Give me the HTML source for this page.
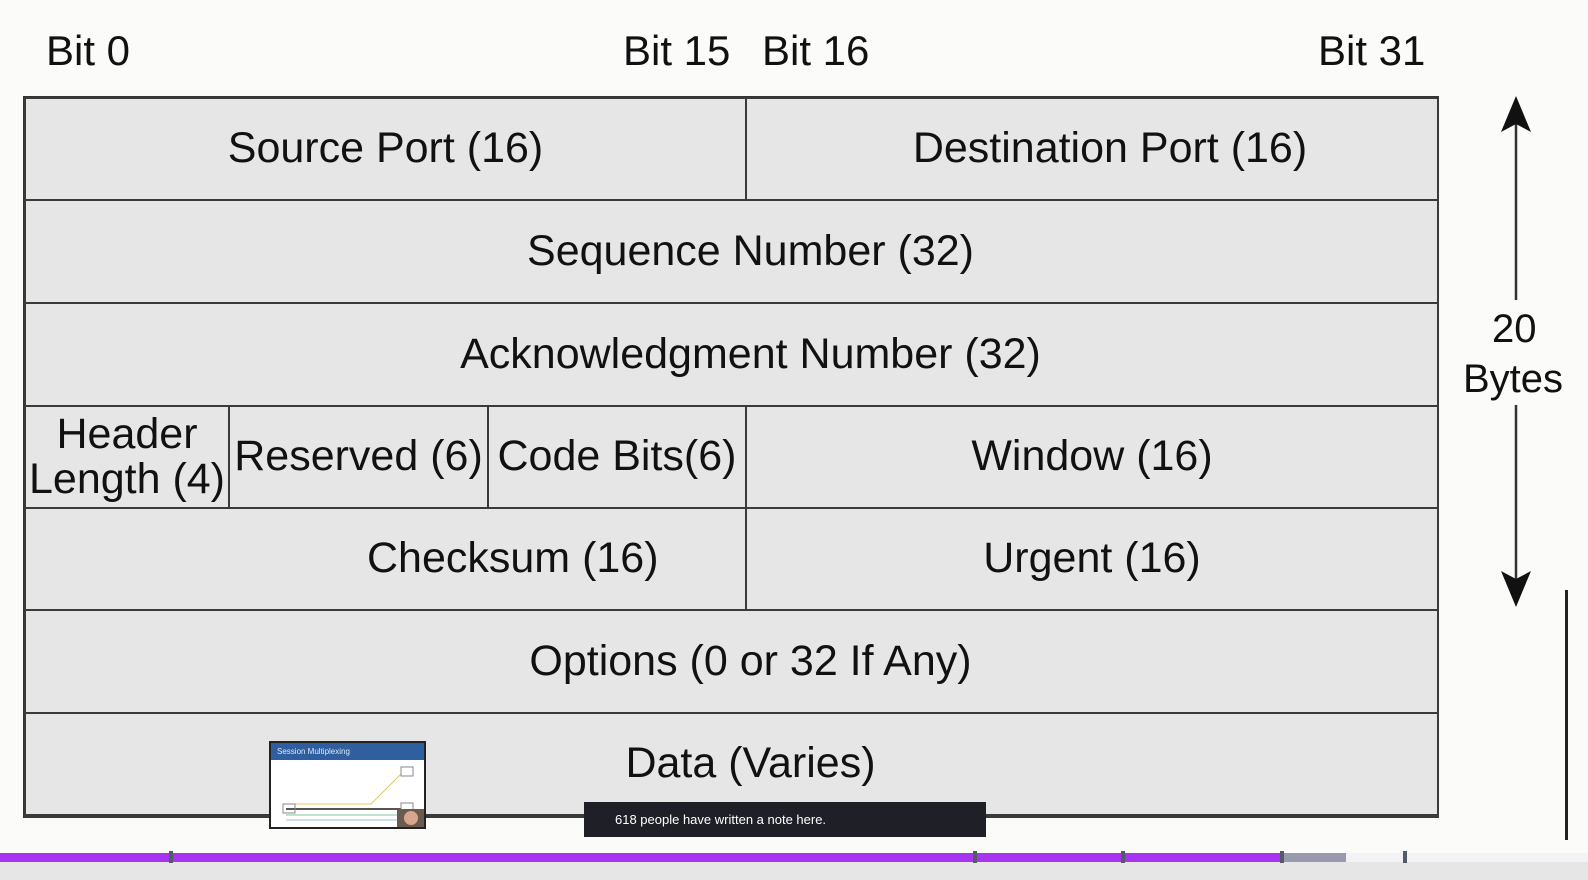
<!DOCTYPE html>
<html><head><meta charset="utf-8"><style>
html,body{margin:0;padding:0}
body{width:1588px;height:880px;position:relative;overflow:hidden;background:#fbfbfa;font-family:"Liberation Sans",sans-serif;color:#111}
.t{position:absolute;font-size:42px;white-space:nowrap;line-height:1}
.box{position:absolute;background:#e6e6e7;border:2px solid #3a3a3a;box-sizing:border-box;display:flex;align-items:center;justify-content:center;font-size:43px;line-height:1.05;text-align:center;color:#111;white-space:nowrap}
.w{padding-left:38px}
</style></head><body>
<div class="t" style="left:46px;top:30px">Bit 0</div>
<div class="t" style="left:623px;top:30px">Bit 15</div>
<div class="t" style="left:762px;top:30px">Bit 16</div>
<div class="t" style="left:1318px;top:30px">Bit 31</div>

<div style="position:absolute;left:23px;top:96px;width:1416px;height:722px;border:3px solid #333;box-sizing:border-box;background:#e6e6e7;border-bottom-width:4px"></div>

<div class="box" style="left:24px;top:97px;width:723px;height:104px">Source Port (16)</div>
<div class="box" style="left:745px;top:97px;width:694px;height:104px;padding-left:36px">Destination Port (16)</div>
<div class="box w" style="left:24px;top:199px;width:1415px;height:105px">Sequence Number (32)</div>
<div class="box w" style="left:24px;top:302px;width:1415px;height:105px">Acknowledgment Number (32)</div>
<div class="box" style="left:24px;top:405px;width:206px;height:104px">Header<br>Length (4)</div>
<div class="box" style="left:228px;top:405px;width:261px;height:104px">Reserved (6)</div>
<div class="box" style="left:487px;top:405px;width:260px;height:104px">Code Bits(6)</div>
<div class="box" style="left:745px;top:405px;width:694px;height:104px">Window (16)</div>
<div class="box" style="left:24px;top:507px;width:723px;height:104px;justify-content:flex-start;padding-left:341px">Checksum (16)</div>
<div class="box" style="left:745px;top:507px;width:694px;height:104px">Urgent (16)</div>
<div class="box w" style="left:24px;top:609px;width:1415px;height:105px">Options (0 or 32 If Any)</div>
<div class="box w" style="left:24px;top:712px;width:1415px;height:106px;border-bottom-width:4px">Data (Varies)</div>

<svg style="position:absolute;left:1440px;top:90px" width="148" height="530">
<line x1="76" y1="30" x2="76" y2="210" stroke="#333" stroke-width="2.5"/>
<polygon points="76,6 61,42 76,34 91,42" fill="#111"/>
<line x1="76" y1="315" x2="76" y2="495" stroke="#333" stroke-width="2.5"/>
<polygon points="76,517 61,481 76,489 91,481" fill="#111"/>
</svg>
<div class="t" style="left:1492px;top:309px;font-size:40px">20</div>
<div class="t" style="left:1463px;top:359px;font-size:40px">Bytes</div>
<div style="position:absolute;left:1565px;top:590px;width:3px;height:250px;background:#222"></div>

<div style="position:absolute;left:269px;top:741px;width:157px;height:88px;background:#fff;border:2px solid #222;box-sizing:border-box;overflow:hidden">
<div style="height:17px;background:#2f5f9e;color:#dfe8f5;font-size:8px;line-height:17px;padding-left:6px">Session Multiplexing</div>
<svg width="157" height="70" style="position:absolute;left:0;top:17px">
<polyline points="15,44 100,44 130,14" fill="none" stroke="#e8c36a" stroke-width="1"/>
<line x1="15" y1="49" x2="130" y2="49" stroke="#555" stroke-width="2"/>
<line x1="15" y1="55" x2="130" y2="55" stroke="#7cc7a0" stroke-width="1"/>
<line x1="15" y1="60" x2="130" y2="60" stroke="#9ec5dd" stroke-width="1"/>
<rect x="12" y="44" width="12" height="9" fill="none" stroke="#888"/>
<rect x="130" y="7" width="12" height="9" fill="none" stroke="#888"/>
<rect x="130" y="43" width="12" height="9" fill="none" stroke="#888"/>
<rect x="126" y="49" width="31" height="21" fill="#6b5a50"/>
<circle cx="140" cy="58" r="7" fill="#d9a58e"/>
</svg>
</div>

<div style="position:absolute;left:584px;top:802px;width:402px;height:35px;background:#1f1f27;color:#fff;font-size:13px;line-height:35px;padding-left:31px;box-sizing:border-box">618 people have written a note here.</div>

<div style="position:absolute;left:0;top:862px;width:1588px;height:18px;background:#e6e6e6"></div>
<div style="position:absolute;left:0;top:853px;width:1588px;height:9px;background:#f3f3f5"></div>
<div style="position:absolute;left:1282px;top:853px;width:64px;height:9px;background:#9a9aae"></div>
<div style="position:absolute;left:0;top:853px;width:1282px;height:9px;background:#a535ef"></div>
<div style="position:absolute;left:169px;top:851px;width:4px;height:12px;background:#555a68"></div>
<div style="position:absolute;left:973px;top:851px;width:4px;height:12px;background:#555a68"></div>
<div style="position:absolute;left:1121px;top:851px;width:4px;height:12px;background:#555a68"></div>
<div style="position:absolute;left:1280px;top:851px;width:4px;height:12px;background:#555a68"></div>
<div style="position:absolute;left:1403px;top:851px;width:4px;height:12px;background:#555a68"></div>
</body></html>
